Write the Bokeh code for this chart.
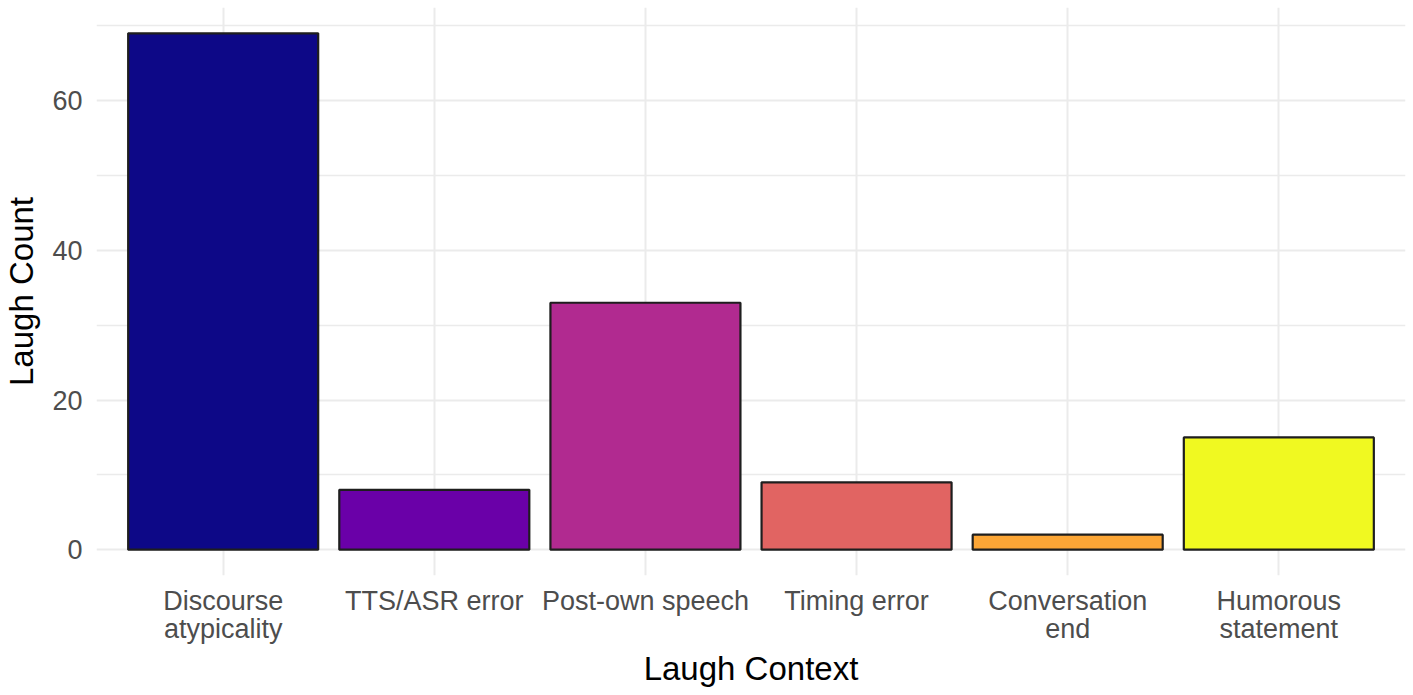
from bokeh.plotting import figure
from bokeh.models import ColumnDataSource, Range1d, FixedTicker
from bokeh.embed import file_html
from bokeh.resources import INLINE

categories = ["Discourse\natypicality", "TTS/ASR error", "Post-own speech",
              "Timing error", "Conversation\nend", "Humorous\nstatement"]
counts = [69, 8, 33, 9, 2, 15]
colors = ["#0D0887", "#6A00A8", "#B12A90", "#E16462", "#FCA636", "#F0F921"]
y_ticks = [0, 20, 40, 60]
y_minor = [10, 30, 50, 70]

positions = list(range(1, len(categories) + 1))
src = ColumnDataSource(dict(x=positions, top=counts, color=colors))

p = figure(width=1413, height=695, output_backend="svg", toolbar_location=None,
           x_range=Range1d(0.4, 6.6), y_range=Range1d(-3.45, 72.45),
           min_border_left=96, min_border_right=8, min_border_top=7,
           min_border_bottom=120)
p.outline_line_color = None
p.background_fill_color = "white"

p.vbar(x="x", top="top", bottom=0, width=0.9, fill_color="color",
       line_color="#1E1E1E", line_width=2.2, source=src)

FONT = "Liberation Sans"

# x axis
p.xaxis.ticker = FixedTicker(ticks=positions)
p.xaxis.major_label_overrides = {pos: lab for pos, lab in zip(positions, categories)}
p.xaxis.axis_line_color = None
p.xaxis.major_tick_line_color = None
p.xaxis.minor_tick_line_color = None
p.xaxis.major_tick_out = 0
p.xaxis.major_tick_in = 0
p.xaxis.major_label_standoff = 10
p.xaxis.major_label_text_font = FONT
p.xaxis.major_label_text_font_size = "27px"
p.xaxis.major_label_text_line_height = 0.95
p.xaxis.major_label_text_color = "#4D4D4D"
p.xaxis.axis_label = "Laugh Context"
p.xaxis.axis_label_text_font = FONT
p.xaxis.axis_label_text_font_size = "33px"
p.xaxis.axis_label_text_font_style = "normal"
p.xaxis.axis_label_text_color = "black"
p.xaxis.axis_label_standoff = 3

# y axis
p.yaxis.ticker = FixedTicker(ticks=y_ticks, minor_ticks=y_minor)
p.yaxis.axis_line_color = None
p.yaxis.major_tick_line_color = None
p.yaxis.minor_tick_line_color = None
p.yaxis.major_tick_out = 0
p.yaxis.major_tick_in = 0
p.yaxis.major_label_standoff = 10
p.yaxis.major_label_text_font = FONT
p.yaxis.major_label_text_font_size = "27px"
p.yaxis.major_label_text_color = "#4D4D4D"
p.yaxis.axis_label = "Laugh Count"
p.yaxis.axis_label_text_font = FONT
p.yaxis.axis_label_text_font_size = "33px"
p.yaxis.axis_label_text_font_style = "normal"
p.yaxis.axis_label_text_color = "black"
p.yaxis.axis_label_standoff = 9

# grids
p.xgrid.grid_line_color = "#EBEBEB"
p.xgrid.grid_line_width = 2
p.ygrid.grid_line_color = "#EBEBEB"
p.ygrid.grid_line_width = 2
p.ygrid.minor_grid_line_color = "#EBEBEB"
p.ygrid.minor_grid_line_width = 1.6

open("out.html", "w").write(file_html(p, INLINE))
